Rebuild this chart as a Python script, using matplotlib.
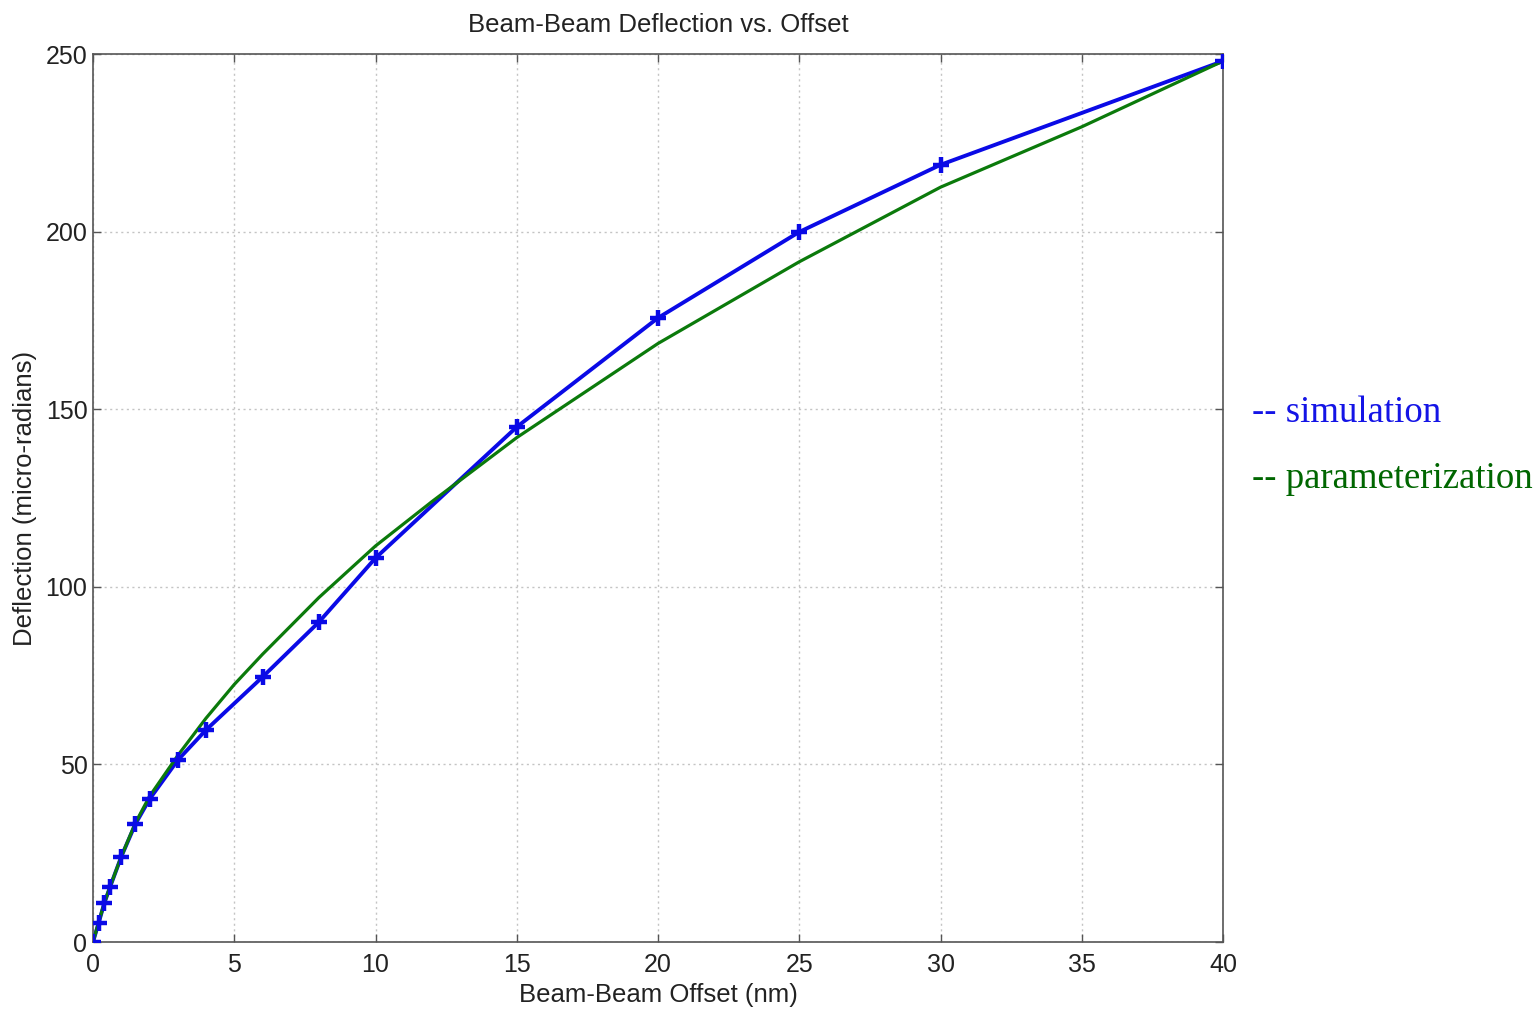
import matplotlib
matplotlib.use("Agg")
import matplotlib.pyplot as plt

# Data
offset_nm = [0, 0.2, 0.4, 0.6, 1, 1.5, 2, 3, 4, 6, 8, 10, 15, 20, 25, 30, 40]
simulation = [0, 5.4, 10.9, 15.4, 24, 33.2, 40.2, 51.2, 59.7, 74.6, 90.1, 108.1, 145, 175.7, 199.9, 218.8, 248]
param_offset_nm = [0, 0.2, 0.4, 0.6, 1, 1.5, 2, 3, 4, 5, 6, 8, 10, 12, 15, 20, 25, 30, 35, 40]
parameterization = [0, 5.5, 11, 15.5, 24, 33.5, 41, 52.5, 63, 72.5, 81, 97, 111.5, 124, 142, 168.5, 191.5, 212.5, 229.5, 248]

x_ticks = [0, 5, 10, 15, 20, 25, 30, 35, 40]
y_ticks = [0, 50, 100, 150, 200, 250]

title = "Beam-Beam Deflection vs. Offset"
x_label = "Beam-Beam Offset (nm)"
y_label = "Deflection (micro-radians)"
legend_labels = ["-- simulation", "-- parameterization"]

W, H = 1539, 1011
fig = plt.figure(figsize=(W / 100, H / 100), dpi=100)
ax = fig.add_axes([93 / W, 1 - 942 / H, (1223 - 93) / W, (942 - 54) / H])

blue = "#0a0ae6"
green = "#0b7a0b"

ax.plot(offset_nm, simulation, color=blue, lw=2.8, zorder=3)
ax.plot(param_offset_nm, parameterization, color=green, lw=2.3, zorder=4)
ax.plot(offset_nm, simulation, ls="none", marker="+", color=blue, ms=11, mew=3.2, zorder=5)

ax.set_xlim(0, 40)
ax.set_ylim(0, 250)
ax.set_xticks(x_ticks)
ax.set_yticks(y_ticks)

tick_font = dict(family="Liberation Sans", size=18)
ax.set_xticklabels([str(t) for t in x_ticks], fontdict=tick_font)
ax.set_yticklabels([str(t) for t in y_ticks], fontdict=tick_font)

ax.tick_params(direction="in", length=6, width=1, colors="#555555", top=True, right=True,
               labelcolor="#222222")
ax.tick_params(axis="y", pad=4)
ax.tick_params(axis="x", pad=8)

ax.grid(True, color="#c4c4c4", ls=(0, (1.5, 2.5)), lw=1.0)
for s in ax.spines.values():
    s.set_color("#555555")
    s.set_linewidth(1.2)

ax.set_title(title, family="Liberation Sans", size=18.5, color="#222222", pad=16)
ax.set_xlabel(x_label, family="Liberation Sans", size=18.5, color="#222222", labelpad=4)
ax.set_ylabel(y_label, family="Liberation Sans", size=18.5, color="#222222", labelpad=6)

fig.text(1252 / W, 1 - 413 / H, legend_labels[0], family="Liberation Serif", size=26.5,
         color="#1414e6", va="center", ha="left")
fig.text(1252 / W, 1 - 479 / H, legend_labels[1], family="Liberation Serif", size=26.5,
         color="#006600", va="center", ha="left")

fig.savefig("out.png", dpi=100)
